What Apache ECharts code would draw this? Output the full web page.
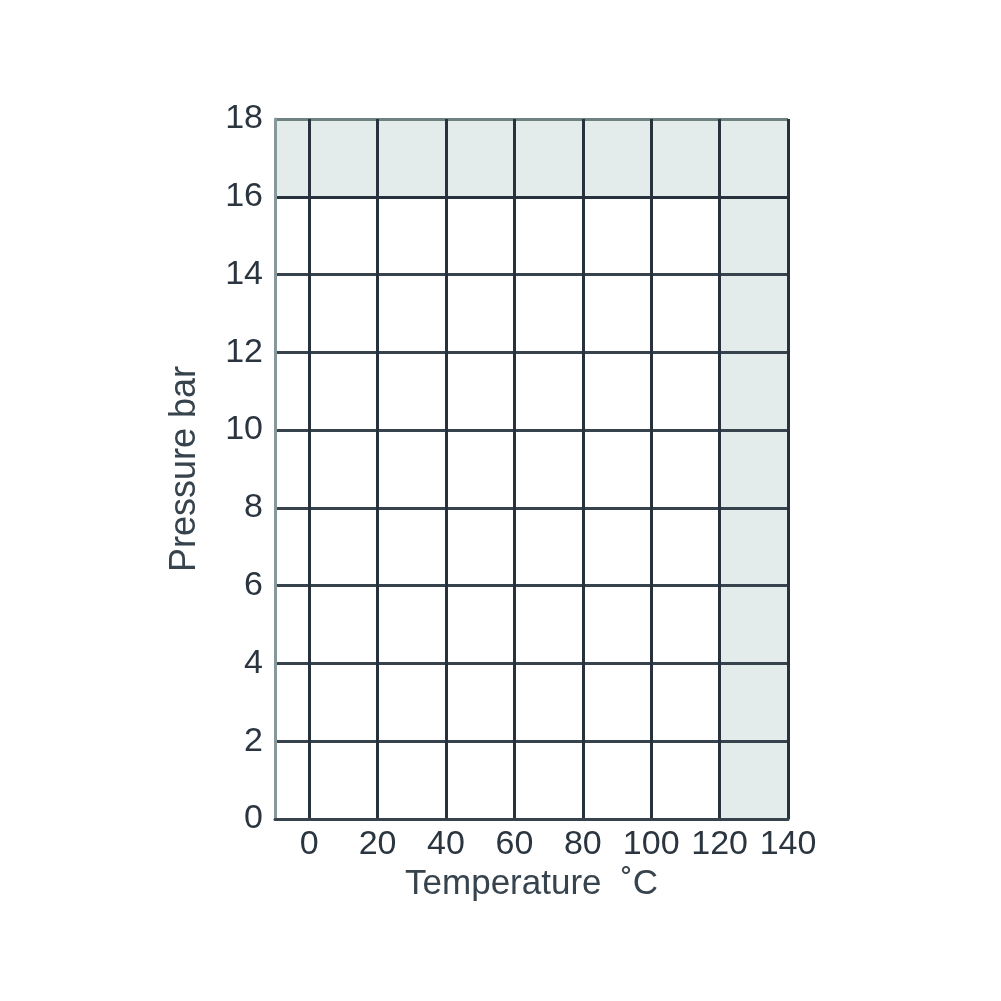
<!DOCTYPE html>
<html>
<head>
<meta charset="utf-8">
<script src="https://cdn.jsdelivr.net/npm/echarts@6/dist/echarts.min.js"></script>
<style>html,body{margin:0;padding:0;background:#fff}#c{width:1001px;height:1001px}</style>
</head>
<body>
<div id="c"></div>
<script>
var xTicks = [0, 20, 40, 60, 80, 100, 120, 140];
var xRange = [-10, 140];
var yRange = [0, 18];
var yStep = 2;
// shaded regions: [xFrom, yFrom, xTo, yTo]
var shadeTop = [-10, 16, 120, 18];
var shadeRight = [120, 0, 140, 18];
var xName = 'Temperature  \u02DAC';
var yName = 'Pressure bar';

var chart = echarts.init(document.getElementById('c'), null, {renderer: 'canvas'});
var txt = '#2b3540';
function area(r) {
  return [{xAxis: r[0], yAxis: r[1]}, {xAxis: r[2], yAxis: r[3]}];
}
chart.setOption({
  animation: false,
  backgroundColor: '#ffffff',
  grid: {left: 275, right: 213, top: 119, bottom: 182},
  xAxis: {
    type: 'value', min: xRange[0], max: xRange[1], z: 5,
    name: xName, nameLocation: 'middle', nameGap: 48,
    nameTextStyle: {fontFamily: 'Liberation Sans', fontSize: 35, color: '#37434d'},
    axisLine: {show: true, onZero: false, lineStyle: {color: '#36434d', width: 3}},
    axisTick: {show: false, customValues: xTicks},
    axisLabel: {customValues: xTicks, margin: 9, fontFamily: 'Liberation Sans', fontSize: 34, color: txt},
    splitLine: {show: true, lineStyle: {color: '#27323d', width: 3}}
  },
  yAxis: {
    type: 'value', min: yRange[0], max: yRange[1], interval: yStep, z: 5,
    name: yName, nameLocation: 'middle', nameGap: 72,
    nameTextStyle: {fontFamily: 'Liberation Sans', fontSize: 36, color: '#37434d'},
    axisLine: {show: true, onZero: false, lineStyle: {color: '#86989b', width: 3}},
    axisTick: {show: false},
    axisLabel: {margin: 12, fontFamily: 'Liberation Sans', fontSize: 34, color: txt},
    splitLine: {show: true, lineStyle: {color: ['#36434d','#36434d','#36434d','#36434d','#36434d','#36434d','#36434d','#36434d','#27323d','#6e8282'], width: 3}}
  },
  series: [{
    type: 'line', data: [], z: 1, silent: true,
    markArea: {
      silent: true,
      itemStyle: {color: '#e4ebeb'},
      data: [area(shadeTop), area(shadeRight)]
    }
  }]
});
</script>
</body>
</html>
